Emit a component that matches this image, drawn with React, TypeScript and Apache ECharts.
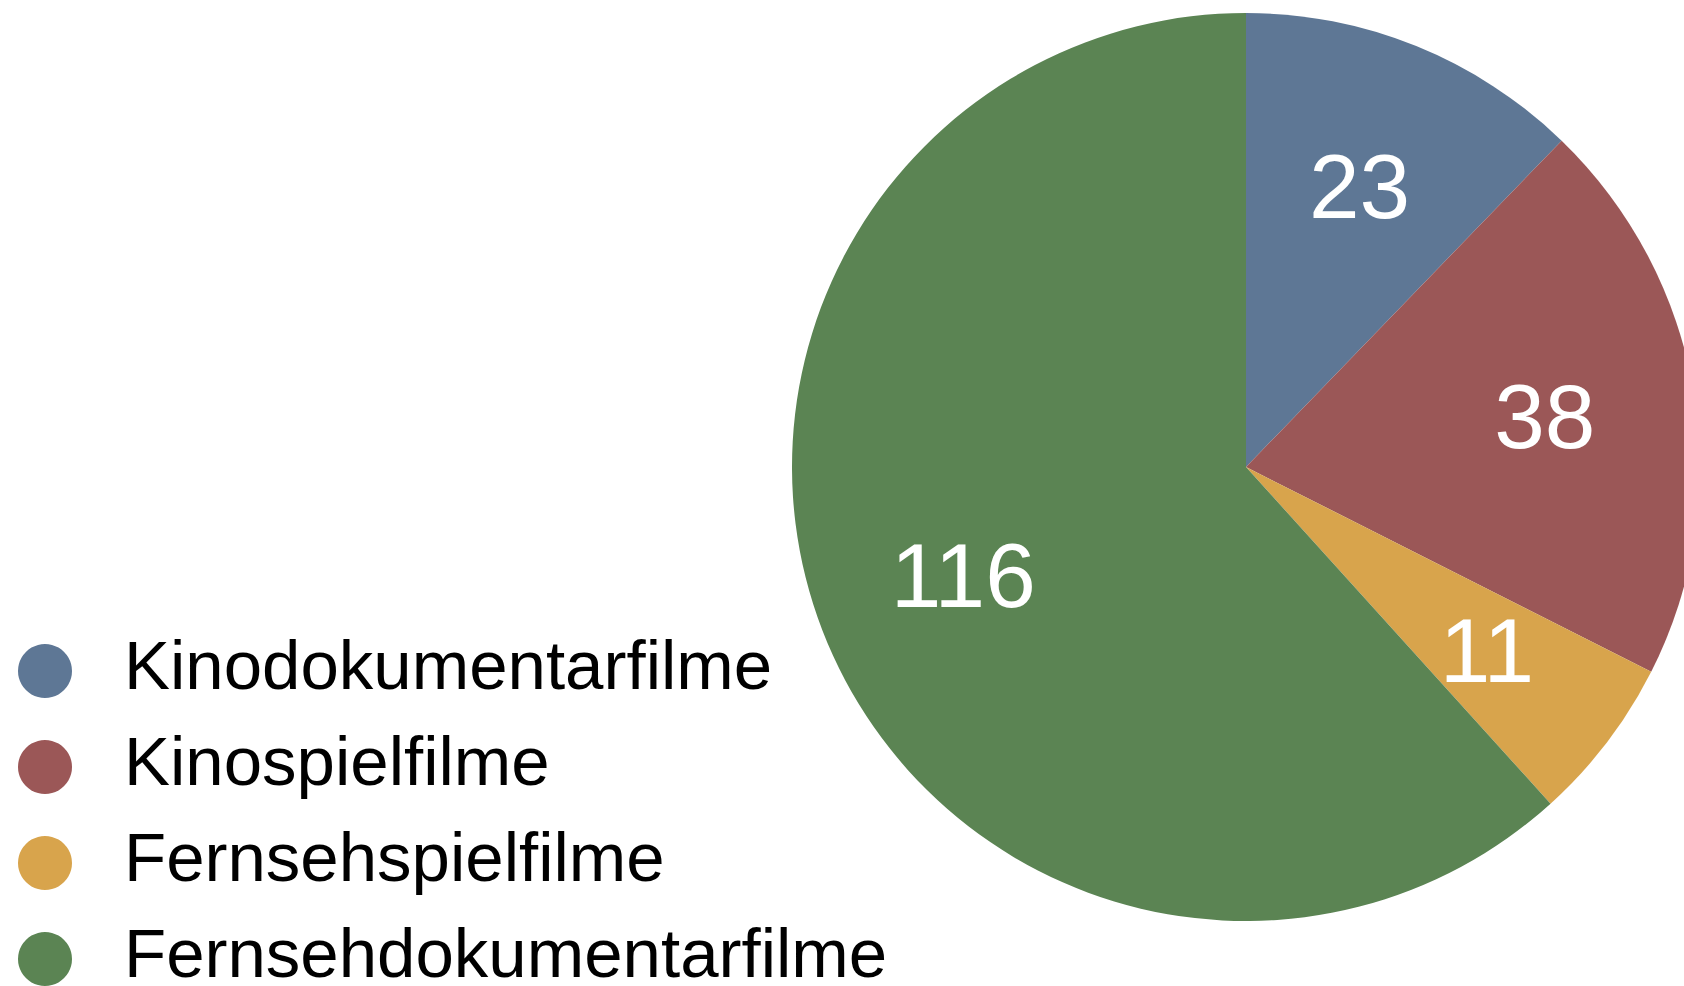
import React, { useEffect, useRef } from "react";
import * as echarts from "echarts";

// Film counts by category
const categories = [
  "Kinodokumentarfilme",
  "Kinospielfilme",
  "Fernsehspielfilme",
  "Fernsehdokumentarfilme",
];
const counts = [23, 38, 11, 116];
const colors = ["#5e7795", "#9b5757", "#d8a44c", "#5b8453"];

const FONT = "'Liberation Sans', Arial, Helvetica, sans-serif";

export default function App() {
  const ref = useRef<HTMLDivElement>(null);

  useEffect(() => {
    if (!ref.current) return;
    const chart = echarts.init(ref.current, undefined, { renderer: "svg" });

    const pieData = categories.map((name, i) => ({
      name,
      value: counts[i],
      itemStyle: { color: colors[i] },
    }));
    const labelData = categories.map((name, i) => ({
      name,
      value: counts[i],
    }));

    chart.setOption({
      animation: false,
      backgroundColor: "#ffffff",
      legend: {
        orient: "vertical",
        left: 13,
        top: 626,
        height: 500,
        icon: "circle",
        itemWidth: 54,
        itemHeight: 54,
        itemGap: 16,
        selectedMode: false,
        data: categories,
        formatter: "{t|{name}}",
        textStyle: {
          fontFamily: FONT,
          fontSize: 69,
          color: "#000000",
          rich: {
            t: {
              fontFamily: FONT,
              fontSize: 69,
              lineHeight: 69,
              color: "#000000",
              padding: [0, 0, 11, 47],
            },
          },
        },
      },
      series: [
        {
          type: "pie",
          name: "slices",
          center: [1246, 467],
          radius: [0, 454],
          startAngle: 90,
          clockwise: true,
          silent: true,
          label: { show: false },
          labelLine: { show: false },
          itemStyle: { borderWidth: 0 },
          emphasis: { disabled: true },
          data: pieData,
        },
        {
          // transparent ring whose midline carries the value labels
          type: "pie",
          name: "values",
          center: [1246, 467],
          radius: [146, 454],
          startAngle: 90,
          clockwise: true,
          silent: true,
          itemStyle: { color: "transparent", borderWidth: 0 },
          emphasis: { disabled: true },
          labelLine: { show: false },
          label: {
            show: true,
            position: "inside",
            formatter: "{c}",
            color: "#ffffff",
            fontFamily: FONT,
            fontSize: 91,
          },
          data: labelData,
        },
      ],
    });

    return () => chart.dispose();
  }, []);

  return (
    <div
      ref={ref}
      style={{
        position: "fixed",
        left: 0,
        top: 0,
        width: 1684,
        height: 986,
      }}
    />
  );
}
